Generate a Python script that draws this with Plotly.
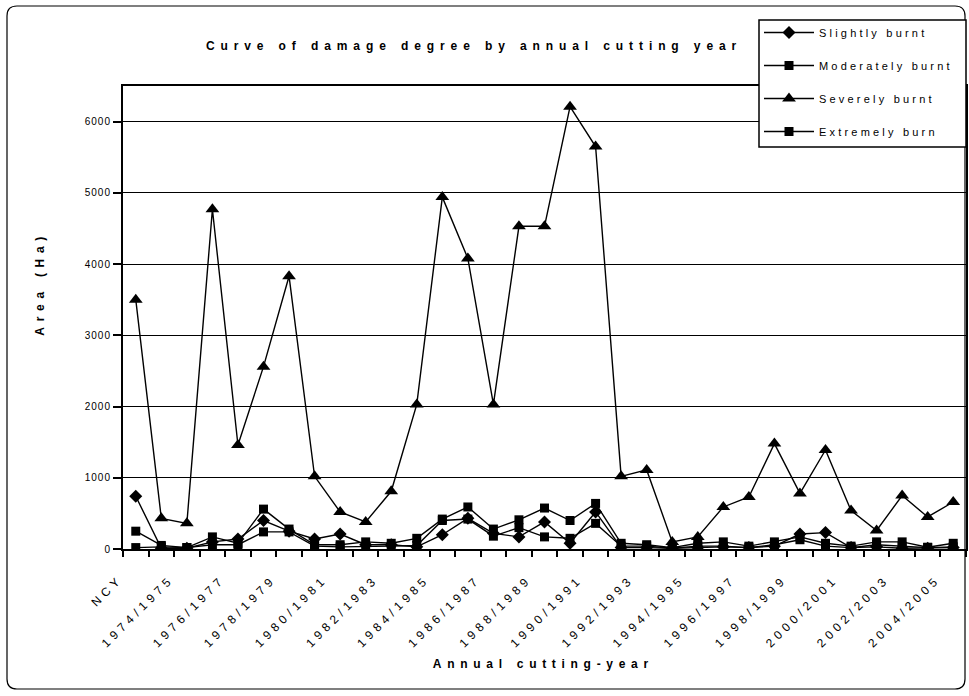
import plotly.graph_objects as go

categories = ["NCY"] + [f"{y}/{y+1}" for y in range(1973, 2005)]

slightly = [740, 10, 10, 100, 140, 400, 250, 140, 210, 60, 60, 30, 200, 430, 220, 170,
            380, 80, 520, 20, 20, 10, 20, 30, 20, 40, 210, 230, 20, 30, 10, 10, 20]
moderately = [250, 50, 20, 170, 80, 560, 280, 60, 60, 100, 80, 150, 420, 590, 280, 410,
              575, 400, 640, 80, 60, 20, 80, 100, 40, 100, 170, 80, 40, 100, 100, 25, 80]
severely = [3500, 430, 360, 4770, 1460, 2560, 3830, 1020, 520, 380, 810, 2030, 4940, 4080,
            2030, 4530, 4530, 6210, 5650, 1020, 1110, 100, 170, 590, 730, 1480, 780, 1390,
            540, 260, 750, 450, 660]
extremely = [20, 30, 20, 60, 60, 240, 240, 40, 30, 30, 40, 50, 400, 420, 180, 300, 170,
             150, 360, 40, 40, 10, 40, 40, 20, 60, 130, 40, 20, 60, 40, 20, 30]

series_names = ["Slightly burnt", "Moderately burnt", "Severely burnt", "Extremely burn"]
y_ticks = [0, 1000, 2000, 3000, 4000, 5000, 6000]
NB = "\u00a0\u00a0\u00a0"
tick_text = [c + NB if i % 2 == 0 else "" for i, c in enumerate(categories)]

FONT = "Liberation Sans, Arial, sans-serif"
W, H = 969, 696
L, R, T, B = 123, 3, 86, 147
pw, ph = W - L - R, H - T - B

def px_x(x):
    return (x - L) / pw

def px_y(y):
    return (H - B - y) / ph

fig = go.Figure()
symbols = ["diamond", "square", "triangle-up", "square"]
sizes = [10, 9, 12, 9]
for i, (name, vals) in enumerate(zip(series_names, [slightly, moderately, severely, extremely])):
    fig.add_trace(go.Scatter(
        x=categories, y=vals, name=name, mode="lines+markers",
        legendgroup=f"g{i}",
        line=dict(color="black", width=1.4),
        marker=dict(symbol=symbols[i], size=sizes[i], color="black",
                    line=dict(width=0)),
    ))

# outer rounded border
x0, x1 = px_x(7), px_x(965)
y0, y1 = px_y(689), px_y(6)
rx, ry = 10 / pw, 10 / ph
path = (f"M {x0+rx},{y1} L {x1-rx},{y1} Q {x1},{y1} {x1},{y1-ry} "
        f"L {x1},{y0+ry} Q {x1},{y0} {x1-rx},{y0} L {x0+rx},{y0} Q {x0},{y0} {x0},{y0+ry} "
        f"L {x0},{y1-ry} Q {x0},{y1} {x0+rx},{y1} Z")
shapes = [
    dict(type="path", xref="paper", yref="paper", path=path,
         line=dict(color="black", width=1.2), layer="below"),
    dict(type="rect", xref="paper", yref="paper",
         x0=px_x(759), x1=px_x(966), y0=px_y(147), y1=px_y(20),
         line=dict(color="black", width=1.5), fillcolor="white", layer="above"),
]

annotations = [
    dict(text="<b>Area (Ha)</b>", xref="paper", yref="paper", x=px_x(40), y=px_y(284),
         textangle=-90, showarrow=False, font=dict(family=FONT, size=12, color="black"),
         xanchor="center", yanchor="middle"),
    dict(text="<b>Annual cutting-year</b>", xref="paper", yref="paper", x=px_x(543), y=px_y(664),
         showarrow=False, font=dict(family=FONT, size=12, color="black"),
         xanchor="center", yanchor="middle"),
]

fig.update_layout(
    width=W, height=H,
    margin=dict(l=L, r=R, t=T, b=B, autoexpand=False),
    paper_bgcolor="white", plot_bgcolor="white",
    font=dict(family=FONT, color="black"),
    title=dict(text="<b>Curve of damage degree by annual cutting year</b>",
               x=474 / W, xref="container", xanchor="center",
               y=1 - 46 / H, yref="container", yanchor="middle",
               font=dict(family=FONT, size=12, color="black")),
    shapes=shapes,
    annotations=annotations,
    showlegend=True,
    legend=dict(x=px_x(759), y=px_y(18), xanchor="left", yanchor="top",
                bgcolor="rgba(0,0,0,0)", borderwidth=0,
                font=dict(family=FONT, size=11, color="black"),
                tracegroupgap=14, itemwidth=50),
    xaxis=dict(type="category", range=[-0.5, len(categories) - 0.5],
               tickmode="array", tickvals=categories, ticktext=tick_text,
               tickson="boundaries", ticks="outside", ticklen=6, tickwidth=1.5,
               tickcolor="black", tickangle=-45,
               tickfont=dict(family=FONT, size=12, color="black"),
               showline=True, linecolor="black", linewidth=2, mirror=True,
               showgrid=False, zeroline=False),
    yaxis=dict(range=[0, 6500], tickvals=y_ticks, ticks="outside", ticklen=8,
               tickwidth=1.5, tickcolor="black",
               tickfont=dict(family=FONT, size=10, color="black"),
               showline=True, linecolor="black", linewidth=2, mirror=True,
               showgrid=True, gridcolor="black", gridwidth=1.2, zeroline=False),
)

post = """
document.body.style.margin = '0';
document.body.style.padding = '0';
var st = document.createElement('style');
st.textContent = [
  '.gtitle { letter-spacing: 5.9px; }',
  '.annotation-text { letter-spacing: 5.7px; }',
  '.legendtext { letter-spacing: 3.2px; }',
  '.xtick text { letter-spacing: 4.4px; }',
  '.ytick text { letter-spacing: 1px; }',
  '.legend .scrollbox, .legend { clip-path: none !important; }'
].join('\\n');
document.head.appendChild(st);
"""
fig.write_html("out.html", post_script=post, config={"displayModeBar": False})
